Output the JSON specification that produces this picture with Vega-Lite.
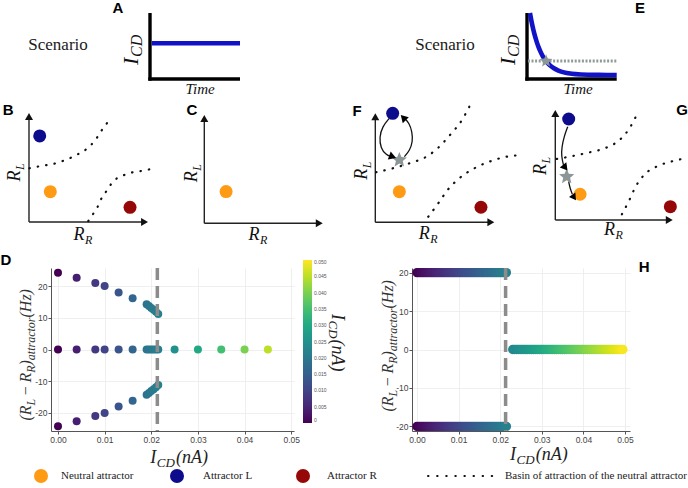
{
"$schema": "https://vega.github.io/schema/vega-lite/v6.json",
"padding": 0,
"background": "white",
"data": {"values": [{}]},
"datasets": {
"attr": [
{"panel":"B","kind":"N","x":0.179,"y":0.278},{"panel":"B","kind":"L","x":0.09,"y":0.79},{"panel":"B","kind":"R","x":0.849,"y":0.135},
{"panel":"C","kind":"N","x":0.184,"y":0.293},
{"panel":"F","kind":"N","x":0.202,"y":0.281},{"panel":"F","kind":"L","x":0.146,"y":1.0},{"panel":"F","kind":"R","x":0.888,"y":0.138},
{"panel":"G","kind":"N","x":0.211,"y":0.234},{"panel":"G","kind":"L","x":0.114,"y":0.918},{"panel":"G","kind":"R","x":0.98,"y":0.121}
],
"basin": [
{"panel":"B","curve":"1","x":0.003,"y":0.493},{"panel":"B","curve":"1","x":0.067,"y":0.507},{"panel":"B","curve":"1","x":0.137,"y":0.52},{"panel":"B","curve":"1","x":0.213,"y":0.535},{"panel":"B","curve":"1","x":0.283,"y":0.56},{"panel":"B","curve":"1","x":0.347,"y":0.587},{"panel":"B","curve":"1","x":0.409,"y":0.621},{"panel":"B","curve":"1","x":0.465,"y":0.654},{"panel":"B","curve":"1","x":0.521,"y":0.706},{"panel":"B","curve":"1","x":0.571,"y":0.773},{"panel":"B","curve":"1","x":0.613,"y":0.844},{"panel":"B","curve":"1","x":0.655,"y":0.906},
{"panel":"B","curve":"2","x":0.498,"y":0.009},{"panel":"B","curve":"2","x":0.538,"y":0.073},{"panel":"B","curve":"2","x":0.577,"y":0.14},{"panel":"B","curve":"2","x":0.605,"y":0.208},{"panel":"B","curve":"2","x":0.647,"y":0.278},{"panel":"B","curve":"2","x":0.689,"y":0.346},{"panel":"B","curve":"2","x":0.739,"y":0.401},{"panel":"B","curve":"2","x":0.801,"y":0.431},{"panel":"B","curve":"2","x":0.871,"y":0.456},{"panel":"B","curve":"2","x":0.941,"y":0.468},{"panel":"B","curve":"2","x":1.011,"y":0.483},
{"panel":"F","curve":"1","x":0.006,"y":0.459},{"panel":"F","curve":"1","x":0.146,"y":0.495},{"panel":"F","curve":"1","x":0.286,"y":0.541},{"panel":"F","curve":"1","x":0.425,"y":0.599},{"panel":"F","curve":"1","x":0.529,"y":0.684},{"panel":"F","curve":"1","x":0.627,"y":0.8},{"panel":"F","curve":"1","x":0.728,"y":0.938},{"panel":"F","curve":"1","x":0.79,"y":1.06},
{"panel":"F","curve":"2","x":0.445,"y":0.051},{"panel":"F","curve":"2","x":0.529,"y":0.174},{"panel":"F","curve":"2","x":0.608,"y":0.297},{"panel":"F","curve":"2","x":0.706,"y":0.404},{"panel":"F","curve":"2","x":0.832,"y":0.495},{"panel":"F","curve":"2","x":0.973,"y":0.562},{"panel":"F","curve":"2","x":1.135,"y":0.608},{"panel":"F","curve":"2","x":1.21,"y":0.615},
{"panel":"G","curve":"1","x":0.012,"y":0.555},{"panel":"G","curve":"1","x":0.149,"y":0.582},{"panel":"G","curve":"1","x":0.291,"y":0.615},{"panel":"G","curve":"1","x":0.433,"y":0.657},{"panel":"G","curve":"1","x":0.547,"y":0.727},{"panel":"G","curve":"1","x":0.632,"y":0.834},{"panel":"G","curve":"1","x":0.69,"y":0.948},
{"panel":"G","curve":"2","x":0.567,"y":0.052},{"panel":"G","curve":"2","x":0.627,"y":0.173},{"panel":"G","curve":"2","x":0.684,"y":0.303},{"panel":"G","curve":"2","x":0.761,"y":0.415},{"panel":"G","curve":"2","x":0.875,"y":0.491},{"panel":"G","curve":"2","x":1.003,"y":0.536},{"panel":"G","curve":"2","x":1.066,"y":0.552}
],
"arrows": [
{"panel":"F","path":"1","ord":1,"x":0.118,"y":0.954},{"panel":"F","path":"1","ord":2,"x":0.06,"y":0.88},{"panel":"F","path":"1","ord":3,"x":0.034,"y":0.78},{"panel":"F","path":"1","ord":4,"x":0.045,"y":0.68},{"panel":"F","path":"1","ord":5,"x":0.09,"y":0.62},{"panel":"F","path":"1","ord":6,"x":0.135,"y":0.601},
{"panel":"F","path":"2","ord":1,"x":0.244,"y":0.602},{"panel":"F","path":"2","ord":2,"x":0.29,"y":0.66},{"panel":"F","path":"2","ord":3,"x":0.314,"y":0.74},{"panel":"F","path":"2","ord":4,"x":0.31,"y":0.83},{"panel":"F","path":"2","ord":5,"x":0.285,"y":0.91},{"panel":"F","path":"2","ord":6,"x":0.245,"y":0.955},
{"panel":"G","path":"1","ord":1,"x":0.106,"y":0.848},{"panel":"G","path":"1","ord":2,"x":0.075,"y":0.76},{"panel":"G","path":"1","ord":3,"x":0.055,"y":0.66},{"panel":"G","path":"1","ord":4,"x":0.052,"y":0.58},{"panel":"G","path":"1","ord":5,"x":0.07,"y":0.5},
{"panel":"G","path":"2","ord":1,"x":0.114,"y":0.35},{"panel":"G","path":"2","ord":2,"x":0.125,"y":0.29},{"panel":"G","path":"2","ord":3,"x":0.145,"y":0.235}
],
"stars": [{"panel":"F","x":0.202,"y":0.572},{"panel":"G","x":0.097,"y":0.394}],
"decay": [
{"t":0.033,"I":1.0},{"t":0.05,"I":0.876},{"t":0.07,"I":0.751},{"t":0.09,"I":0.645},{"t":0.11,"I":0.555},{"t":0.13,"I":0.479},{"t":0.15,"I":0.415},{"t":0.175,"I":0.348},{"t":0.2,"I":0.294},{"t":0.225,"I":0.25},{"t":0.25,"I":0.214},{"t":0.3,"I":0.162},{"t":0.35,"I":0.127},{"t":0.4,"I":0.104},{"t":0.5,"I":0.079},{"t":0.6,"I":0.068},{"t":0.7,"I":0.064},{"t":0.8,"I":0.062},{"t":0.9,"I":0.061},{"t":1.0,"I":0.06}
],
"dpts": [
{"I":0,"v":24.2},{"I":0.004,"v":22.6},{"I":0.008,"v":21},{"I":0.01,"v":20},{"I":0.013,"v":18},{"I":0.016,"v":16.2},{"I":0.019,"v":14.3},{"I":0.0195,"v":13.7},{"I":0.02,"v":13.1},{"I":0.0205,"v":12.5},{"I":0.021,"v":11.9},{"I":0.0215,"v":11.2},
{"I":0,"v":0},{"I":0.004,"v":0},{"I":0.008,"v":0},{"I":0.01,"v":0},{"I":0.013,"v":0},{"I":0.016,"v":0},{"I":0.019,"v":0},{"I":0.0195,"v":0},{"I":0.02,"v":0},{"I":0.0205,"v":0},{"I":0.021,"v":0},{"I":0.0215,"v":0},{"I":0.025,"v":0},{"I":0.03,"v":0},{"I":0.035,"v":0},{"I":0.04,"v":0},{"I":0.045,"v":0},
{"I":0,"v":-24.2},{"I":0.004,"v":-22.6},{"I":0.008,"v":-21},{"I":0.01,"v":-20},{"I":0.013,"v":-18},{"I":0.016,"v":-16.2},{"I":0.019,"v":-14.3},{"I":0.0195,"v":-13.7},{"I":0.02,"v":-13.1},{"I":0.0205,"v":-12.5},{"I":0.021,"v":-11.9},{"I":0.0215,"v":-11.2}
],
"hpts": [
{"I":0,"v":20},{"I":0.0005,"v":20},{"I":0.001,"v":20},{"I":0.0015,"v":20},{"I":0.002,"v":20},{"I":0.0025,"v":20},{"I":0.003,"v":20},{"I":0.0035,"v":20},{"I":0.004,"v":20},{"I":0.0045,"v":20},{"I":0.005,"v":20},{"I":0.0055,"v":20},{"I":0.006,"v":20},{"I":0.0065,"v":20},{"I":0.007,"v":20},{"I":0.0075,"v":20},{"I":0.008,"v":20},{"I":0.0085,"v":20},{"I":0.009,"v":20},{"I":0.0095,"v":20},{"I":0.01,"v":20},{"I":0.0105,"v":20},{"I":0.011,"v":20},{"I":0.0115,"v":20},{"I":0.012,"v":20},{"I":0.0125,"v":20},{"I":0.013,"v":20},{"I":0.0135,"v":20},{"I":0.014,"v":20},{"I":0.0145,"v":20},{"I":0.015,"v":20},{"I":0.0155,"v":20},{"I":0.016,"v":20},{"I":0.0165,"v":20},{"I":0.017,"v":20},{"I":0.0175,"v":20},{"I":0.018,"v":20},{"I":0.0185,"v":20},{"I":0.019,"v":20},{"I":0.0195,"v":20},{"I":0.02,"v":20},{"I":0.0205,"v":20},{"I":0.021,"v":20},{"I":0.0215,"v":20},
{"I":0,"v":-20},{"I":0.0005,"v":-20},{"I":0.001,"v":-20},{"I":0.0015,"v":-20},{"I":0.002,"v":-20},{"I":0.0025,"v":-20},{"I":0.003,"v":-20},{"I":0.0035,"v":-20},{"I":0.004,"v":-20},{"I":0.0045,"v":-20},{"I":0.005,"v":-20},{"I":0.0055,"v":-20},{"I":0.006,"v":-20},{"I":0.0065,"v":-20},{"I":0.007,"v":-20},{"I":0.0075,"v":-20},{"I":0.008,"v":-20},{"I":0.0085,"v":-20},{"I":0.009,"v":-20},{"I":0.0095,"v":-20},{"I":0.01,"v":-20},{"I":0.0105,"v":-20},{"I":0.011,"v":-20},{"I":0.0115,"v":-20},{"I":0.012,"v":-20},{"I":0.0125,"v":-20},{"I":0.013,"v":-20},{"I":0.0135,"v":-20},{"I":0.014,"v":-20},{"I":0.0145,"v":-20},{"I":0.015,"v":-20},{"I":0.0155,"v":-20},{"I":0.016,"v":-20},{"I":0.0165,"v":-20},{"I":0.017,"v":-20},{"I":0.0175,"v":-20},{"I":0.018,"v":-20},{"I":0.0185,"v":-20},{"I":0.019,"v":-20},{"I":0.0195,"v":-20},{"I":0.02,"v":-20},{"I":0.0205,"v":-20},{"I":0.021,"v":-20},{"I":0.0215,"v":-20},
{"I":0.023,"v":0},{"I":0.0235,"v":0},{"I":0.024,"v":0},{"I":0.0245,"v":0},{"I":0.025,"v":0},{"I":0.0255,"v":0},{"I":0.026,"v":0},{"I":0.0265,"v":0},{"I":0.027,"v":0},{"I":0.0275,"v":0},{"I":0.028,"v":0},{"I":0.0285,"v":0},{"I":0.029,"v":0},{"I":0.0295,"v":0},{"I":0.03,"v":0},{"I":0.0305,"v":0},{"I":0.031,"v":0},{"I":0.0315,"v":0},{"I":0.032,"v":0},{"I":0.0325,"v":0},{"I":0.033,"v":0},{"I":0.0335,"v":0},{"I":0.034,"v":0},{"I":0.0345,"v":0},{"I":0.035,"v":0},{"I":0.0355,"v":0},{"I":0.036,"v":0},{"I":0.0365,"v":0},{"I":0.037,"v":0},{"I":0.0375,"v":0},{"I":0.038,"v":0},{"I":0.0385,"v":0},{"I":0.039,"v":0},{"I":0.0395,"v":0},{"I":0.04,"v":0},{"I":0.0405,"v":0},{"I":0.041,"v":0},{"I":0.0415,"v":0},{"I":0.042,"v":0},{"I":0.0425,"v":0},{"I":0.043,"v":0},{"I":0.0435,"v":0},{"I":0.044,"v":0},{"I":0.0445,"v":0},{"I":0.045,"v":0},{"I":0.0455,"v":0},{"I":0.046,"v":0},{"I":0.0465,"v":0},{"I":0.047,"v":0},{"I":0.0475,"v":0},{"I":0.048,"v":0},{"I":0.0485,"v":0},{"I":0.049,"v":0},{"I":0.0495,"v":0}
]
},
"columns": 5,
"spacing": 0,
"bounds": "flush",
"align": "each",
"resolve": {"scale": {"color": "independent"}, "legend": {"color": "independent"}},
"config": {"view": {"stroke": null}},
"concat": [
{"width": 50, "height": 95, "mark": {"type": "text", "text": ""}, "encoding": {}},
{"width": 243, "height": 95, "layer": [
 {"mark": {"type": "rule", "color": "#000", "strokeWidth": 3.4},
  "encoding": {"x": {"datum": 0, "type": "quantitative", "scale": {"domain": [-1.1, 1.6], "nice": false, "zero": false}, "axis": null},
               "y": {"datum": -0.025, "type": "quantitative", "scale": {"domain": [-0.2424, 1.197], "nice": false, "zero": false}, "axis": null}, "y2": {"datum": 1.0}}},
 {"mark": {"type": "rule", "color": "#000", "strokeWidth": 3.4},
  "encoding": {"x": {"datum": -0.019, "type": "quantitative", "axis": null}, "x2": {"datum": 1.0}, "y": {"datum": 0, "type": "quantitative", "axis": null}}},
 {"mark": {"type": "rule", "color": "#1212c8", "strokeWidth": 4.6},
  "encoding": {"x": {"datum": 0.02, "type": "quantitative", "axis": null}, "x2": {"datum": 1.0}, "y": {"datum": 0.541, "type": "quantitative", "axis": null}}},
 {"mark": {"type": "text", "text": "Scenario", "font": "Liberation Serif", "fontSize": 17, "color": "#1a1a1a", "align": "center", "baseline": "middle"},
  "encoding": {"x": {"datum": -1.022, "type": "quantitative", "axis": null}, "y": {"datum": 0.515, "type": "quantitative", "axis": null}}},
 {"mark": {"type": "text", "text": "I", "font": "Liberation Serif", "fontStyle": "italic", "fontSize": 22, "angle": 270, "align": "left", "baseline": "alphabetic", "dx": -19, "dy": -12, "color": "#111"},
  "encoding": {"x": {"datum": 0, "type": "quantitative", "axis": null}, "y": {"datum": 0.5, "type": "quantitative", "axis": null}}},
 {"mark": {"type": "text", "text": "CD", "font": "Liberation Serif", "fontStyle": "italic", "fontSize": 16, "angle": 270, "align": "left", "baseline": "alphabetic", "dx": -11, "dy": -8, "color": "#111"},
  "encoding": {"x": {"datum": 0, "type": "quantitative", "axis": null}, "y": {"datum": 0.5, "type": "quantitative", "axis": null}}},
 {"mark": {"type": "text", "text": "Time", "font": "Liberation Serif", "fontStyle": "italic", "fontSize": 15, "align": "center", "baseline": "middle", "color": "#111"},
  "encoding": {"x": {"datum": 0.556, "type": "quantitative", "axis": null}, "y": {"datum": -0.15, "type": "quantitative", "axis": null}}},
 {"mark": {"type": "text", "text": "A", "font": "Liberation Sans", "fontWeight": "bold", "fontSize": 15, "align": "center", "baseline": "middle", "color": "#000"},
  "encoding": {"x": {"datum": -0.356, "type": "quantitative", "axis": null}, "y": {"datum": 1.076, "type": "quantitative", "axis": null}}}
]},
{"width": 118, "height": 95, "mark": {"type": "text", "text": ""}, "encoding": {}},
{"width": 218, "height": 95, "layer": [
 {"mark": {"type": "rule", "color": "#000", "strokeWidth": 3.4},
  "encoding": {"x": {"datum": 0, "type": "quantitative", "scale": {"domain": [-1.282, 1.148], "nice": false, "zero": false}, "axis": null},
               "y": {"datum": -0.025, "type": "quantitative", "scale": {"domain": [-0.2424, 1.197], "nice": false, "zero": false}, "axis": null}, "y2": {"datum": 1.0}}},
 {"mark": {"type": "rule", "color": "#000", "strokeWidth": 3.4},
  "encoding": {"x": {"datum": -0.019, "type": "quantitative", "axis": null}, "x2": {"datum": 1.0}, "y": {"datum": 0, "type": "quantitative", "axis": null}}},
 {"mark": {"type": "rule", "color": "#8d9c98", "strokeWidth": 3, "strokeDash": [2, 1.6]},
  "encoding": {"x": {"datum": 0.01, "type": "quantitative", "axis": null}, "x2": {"datum": 1.0}, "y": {"datum": 0.273, "type": "quantitative", "axis": null}}},
 {"data": {"name": "decay"}, "mark": {"type": "line", "color": "#1212c8", "strokeWidth": 4.6, "interpolate": "monotone"},
  "encoding": {"x": {"field": "t", "type": "quantitative", "axis": null}, "y": {"field": "I", "type": "quantitative", "axis": null}}},
 {"mark": {"type": "point", "shape": "M0,-1L0.265,-0.364L0.951,-0.309L0.428,0.139L0.588,0.809L0,0.45L-0.588,0.809L-0.428,0.139L-0.951,-0.309L-0.265,-0.364Z", "filled": true, "color": "#8c9696", "size": 180, "opacity": 1},
  "encoding": {"x": {"datum": 0.212, "type": "quantitative", "axis": null}, "y": {"datum": 0.273, "type": "quantitative", "axis": null}}},
 {"mark": {"type": "text", "text": "Scenario", "font": "Liberation Serif", "fontSize": 17, "color": "#1a1a1a", "align": "center", "baseline": "middle"},
  "encoding": {"x": {"datum": -0.914, "type": "quantitative", "axis": null}, "y": {"datum": 0.515, "type": "quantitative", "axis": null}}},
 {"mark": {"type": "text", "text": "I", "font": "Liberation Serif", "fontStyle": "italic", "fontSize": 22, "angle": 270, "align": "left", "baseline": "alphabetic", "dx": -19, "dy": -12, "color": "#111"},
  "encoding": {"x": {"datum": 0, "type": "quantitative", "axis": null}, "y": {"datum": 0.5, "type": "quantitative", "axis": null}}},
 {"mark": {"type": "text", "text": "CD", "font": "Liberation Serif", "fontStyle": "italic", "fontSize": 16, "angle": 270, "align": "left", "baseline": "alphabetic", "dx": -11, "dy": -8, "color": "#111"},
  "encoding": {"x": {"datum": 0, "type": "quantitative", "axis": null}, "y": {"datum": 0.5, "type": "quantitative", "axis": null}}},
 {"mark": {"type": "text", "text": "Time", "font": "Liberation Serif", "fontStyle": "italic", "fontSize": 15, "align": "center", "baseline": "middle", "color": "#111"},
  "encoding": {"x": {"datum": 0.569, "type": "quantitative", "axis": null}, "y": {"datum": -0.15, "type": "quantitative", "axis": null}}},
 {"mark": {"type": "text", "text": "E", "font": "Liberation Sans", "fontWeight": "bold", "fontSize": 15, "align": "center", "baseline": "middle", "color": "#000"},
  "encoding": {"x": {"datum": 1.26, "type": "quantitative", "axis": null}, "y": {"datum": 1.076, "type": "quantitative", "axis": null}}}
]},
{"width": 59, "height": 95, "mark": {"type": "text", "text": ""}, "encoding": {}},
{"width": 50, "height": 173, "layer": [
 {"mark": {"type": "rule", "color": "#222", "strokeWidth": 1.4},
  "encoding": {"x": {"datum": 0, "type": "quantitative", "scale": {"domain": [-0.2353, 0.1849], "nice": false, "zero": false}, "axis": null},
               "y": {"datum": 0, "type": "quantitative", "scale": {"domain": [-0.422, 1.1651], "nice": false, "zero": false}, "axis": null}, "y2": {"datum": 0.96}}},
 {"mark": {"type": "rule", "color": "#222", "strokeWidth": 1.4},
  "encoding": {"x": {"datum": 0, "type": "quantitative", "axis": null}, "x2": {"datum": 0.96}, "y": {"datum": 0, "type": "quantitative", "axis": null}}},
 {"mark": {"type": "point", "shape": "triangle-up", "filled": true, "color": "#111", "size": 64, "opacity": 1},
  "encoding": {"x": {"datum": 0, "type": "quantitative", "axis": null}, "y": {"datum": 0.968, "type": "quantitative", "axis": null}}},
 {"mark": {"type": "point", "shape": "triangle-right", "filled": true, "color": "#111", "size": 64, "opacity": 1},
  "encoding": {"x": {"datum": 0.971, "type": "quantitative", "axis": null}, "y": {"datum": 0, "type": "quantitative", "axis": null}}},
 {"data": {"name": "basin"}, "transform": [{"filter": "datum.panel === 'B'"}],
  "mark": {"type": "line", "interpolate": "monotone", "color": "#111", "strokeWidth": 2.2, "strokeCap": "round", "strokeDash": [0.5, 8]},
  "encoding": {"x": {"field": "x", "type": "quantitative", "axis": null}, "y": {"field": "y", "type": "quantitative", "axis": null}, "detail": {"field": "curve"}}},
 {"data": {"name": "attr"}, "transform": [{"filter": "datum.panel === 'B'"}],
  "mark": {"type": "point", "filled": true, "size": 169, "opacity": 1},
  "encoding": {"x": {"field": "x", "type": "quantitative", "axis": null}, "y": {"field": "y", "type": "quantitative", "axis": null},
               "color": {"field": "kind", "type": "nominal", "scale": {"domain": ["N", "L", "R"], "range": ["#ff9a14", "#0c0c8c", "#960808"]}, "legend": null}}},
 {"mark": {"type": "text", "text": "B", "font": "Liberation Sans", "fontWeight": "bold", "fontSize": 15, "align": "center", "baseline": "middle", "color": "#000"},
  "encoding": {"x": {"datum": -0.176, "type": "quantitative", "axis": null}, "y": {"datum": 1.028, "type": "quantitative", "axis": null}}},
 {"mark": {"type": "text", "text": "R", "font": "Liberation Serif", "fontStyle": "italic", "fontSize": 18, "angle": 270, "align": "left", "baseline": "alphabetic", "dx": -14, "dy": -9, "color": "#111"},
  "encoding": {"x": {"datum": 0, "type": "quantitative", "axis": null}, "y": {"datum": 0.5, "type": "quantitative", "axis": null}}},
 {"mark": {"type": "text", "text": "L", "font": "Liberation Serif", "fontStyle": "italic", "fontSize": 12, "angle": 270, "align": "left", "baseline": "alphabetic", "dx": -2.5, "dy": -5, "color": "#111"},
  "encoding": {"x": {"datum": 0, "type": "quantitative", "axis": null}, "y": {"datum": 0.5, "type": "quantitative", "axis": null}}},
 {"mark": {"type": "text", "text": "R", "font": "Liberation Serif", "fontStyle": "italic", "fontSize": 18, "align": "left", "baseline": "alphabetic", "dx": -15, "dy": 18, "color": "#111"},
  "encoding": {"x": {"datum": 0.5, "type": "quantitative", "axis": null}, "y": {"datum": 0, "type": "quantitative", "axis": null}}},
 {"mark": {"type": "text", "text": "R", "font": "Liberation Serif", "fontStyle": "italic", "fontSize": 12, "align": "left", "baseline": "alphabetic", "dx": -3.5, "dy": 22, "color": "#111"},
  "encoding": {"x": {"datum": 0.5, "type": "quantitative", "axis": null}, "y": {"datum": 0, "type": "quantitative", "axis": null}}}
]},
{"width": 243, "height": 173, "layer": [
 {"mark": {"type": "rule", "color": "#222", "strokeWidth": 1.4},
  "encoding": {"x": {"datum": 0, "type": "quantitative", "scale": {"domain": [-1.2948, 0.7576], "nice": false, "zero": false}, "axis": null},
               "y": {"datum": 0, "type": "quantitative", "scale": {"domain": [-0.4127, 1.1847], "nice": false, "zero": false}, "axis": null}, "y2": {"datum": 0.96}}},
 {"mark": {"type": "rule", "color": "#222", "strokeWidth": 1.4},
  "encoding": {"x": {"datum": 0, "type": "quantitative", "axis": null}, "x2": {"datum": 0.96}, "y": {"datum": 0, "type": "quantitative", "axis": null}}},
 {"mark": {"type": "point", "shape": "triangle-up", "filled": true, "color": "#111", "size": 64, "opacity": 1},
  "encoding": {"x": {"datum": 0, "type": "quantitative", "axis": null}, "y": {"datum": 0.968, "type": "quantitative", "axis": null}}},
 {"mark": {"type": "point", "shape": "triangle-right", "filled": true, "color": "#111", "size": 64, "opacity": 1},
  "encoding": {"x": {"datum": 0.971, "type": "quantitative", "axis": null}, "y": {"datum": 0, "type": "quantitative", "axis": null}}},
 {"data": {"name": "attr"}, "transform": [{"filter": "datum.panel === 'C'"}],
  "mark": {"type": "point", "filled": true, "size": 169, "opacity": 1},
  "encoding": {"x": {"field": "x", "type": "quantitative", "axis": null}, "y": {"field": "y", "type": "quantitative", "axis": null},
               "color": {"field": "kind", "type": "nominal", "scale": {"domain": ["N", "L", "R"], "range": ["#ff9a14", "#0c0c8c", "#960808"]}, "legend": null}}},
 {"mark": {"type": "text", "text": "C", "font": "Liberation Sans", "fontWeight": "bold", "fontSize": 15, "align": "center", "baseline": "middle", "color": "#000"},
  "encoding": {"x": {"datum": -0.104, "type": "quantitative", "axis": null}, "y": {"datum": 1.046, "type": "quantitative", "axis": null}}},
 {"mark": {"type": "text", "text": "R", "font": "Liberation Serif", "fontStyle": "italic", "fontSize": 18, "angle": 270, "align": "left", "baseline": "alphabetic", "dx": -13, "dy": -7, "color": "#111"},
  "encoding": {"x": {"datum": 0, "type": "quantitative", "axis": null}, "y": {"datum": 0.5, "type": "quantitative", "axis": null}}},
 {"mark": {"type": "text", "text": "L", "font": "Liberation Serif", "fontStyle": "italic", "fontSize": 12, "angle": 270, "align": "left", "baseline": "alphabetic", "dx": -1.5, "dy": -3, "color": "#111"},
  "encoding": {"x": {"datum": 0, "type": "quantitative", "axis": null}, "y": {"datum": 0.5, "type": "quantitative", "axis": null}}},
 {"mark": {"type": "text", "text": "R", "font": "Liberation Serif", "fontStyle": "italic", "fontSize": 18, "align": "left", "baseline": "alphabetic", "dx": -15, "dy": 17, "color": "#111"},
  "encoding": {"x": {"datum": 0.5, "type": "quantitative", "axis": null}, "y": {"datum": 0, "type": "quantitative", "axis": null}}},
 {"mark": {"type": "text", "text": "R", "font": "Liberation Serif", "fontStyle": "italic", "fontSize": 12, "align": "left", "baseline": "alphabetic", "dx": -3.5, "dy": 21, "color": "#111"},
  "encoding": {"x": {"datum": 0.5, "type": "quantitative", "axis": null}, "y": {"datum": 0, "type": "quantitative", "axis": null}}}
]},
{"width": 118, "height": 173, "layer": [
 {"mark": {"type": "rule", "color": "#222", "strokeWidth": 1.4},
  "encoding": {"x": {"datum": 0, "type": "quantitative", "scale": {"domain": [-0.6832, 0.3084], "nice": false, "zero": false}, "axis": null},
               "y": {"datum": 0, "type": "quantitative", "scale": {"domain": [-0.4193, 1.1679], "nice": false, "zero": false}, "axis": null}, "y2": {"datum": 0.96}}},
 {"mark": {"type": "rule", "color": "#222", "strokeWidth": 1.4},
  "encoding": {"x": {"datum": 0, "type": "quantitative", "axis": null}, "x2": {"datum": 0.96}, "y": {"datum": 0, "type": "quantitative", "axis": null}}},
 {"mark": {"type": "point", "shape": "triangle-up", "filled": true, "color": "#111", "size": 64, "opacity": 1},
  "encoding": {"x": {"datum": 0, "type": "quantitative", "axis": null}, "y": {"datum": 0.968, "type": "quantitative", "axis": null}}},
 {"mark": {"type": "point", "shape": "triangle-right", "filled": true, "color": "#111", "size": 64, "opacity": 1},
  "encoding": {"x": {"datum": 0.971, "type": "quantitative", "axis": null}, "y": {"datum": 0, "type": "quantitative", "axis": null}}},
 {"data": {"name": "basin"}, "transform": [{"filter": "datum.panel === 'F'"}],
  "mark": {"type": "line", "interpolate": "monotone", "color": "#111", "strokeWidth": 2.2, "strokeCap": "round", "strokeDash": [0.5, 8]},
  "encoding": {"x": {"field": "x", "type": "quantitative", "axis": null}, "y": {"field": "y", "type": "quantitative", "axis": null}, "detail": {"field": "curve"}}},
 {"data": {"name": "arrows"}, "transform": [{"filter": "datum.panel === 'F'"}],
  "mark": {"type": "line", "interpolate": "basis", "color": "#111", "strokeWidth": 1.3},
  "encoding": {"x": {"field": "x", "type": "quantitative", "axis": null}, "y": {"field": "y", "type": "quantitative", "axis": null}, "detail": {"field": "path"}, "order": {"field": "ord"}}},
 {"data": {"name": "attr"}, "transform": [{"filter": "datum.panel === 'F'"}],
  "mark": {"type": "point", "filled": true, "size": 169, "opacity": 1},
  "encoding": {"x": {"field": "x", "type": "quantitative", "axis": null}, "y": {"field": "y", "type": "quantitative", "axis": null},
               "color": {"field": "kind", "type": "nominal", "scale": {"domain": ["N", "L", "R"], "range": ["#ff9a14", "#0c0c8c", "#960808"]}, "legend": null}}},
 {"data": {"name": "stars"}, "transform": [{"filter": "datum.panel === 'F'"}],
  "mark": {"type": "point", "shape": "M0,-1L0.265,-0.364L0.951,-0.309L0.428,0.139L0.588,0.809L0,0.45L-0.588,0.809L-0.428,0.139L-0.951,-0.309L-0.265,-0.364Z", "filled": true, "color": "#8c9696", "size": 256, "opacity": 1},
  "encoding": {"x": {"field": "x", "type": "quantitative", "axis": null}, "y": {"field": "y", "type": "quantitative", "axis": null}}},
 {"mark": {"type": "point", "shape": "triangle-right", "filled": true, "color": "#000", "size": 70, "opacity": 1, "angle": 20},
  "encoding": {"x": {"datum": 0.146, "type": "quantitative", "axis": null}, "y": {"datum": 0.601, "type": "quantitative", "axis": null}}},
 {"mark": {"type": "point", "shape": "triangle-right", "filled": true, "color": "#000", "size": 70, "opacity": 1, "angle": 226},
  "encoding": {"x": {"datum": 0.235, "type": "quantitative", "axis": null}, "y": {"datum": 0.96, "type": "quantitative", "axis": null}}},
 {"mark": {"type": "text", "text": "F", "font": "Liberation Sans", "fontWeight": "bold", "fontSize": 15, "align": "center", "baseline": "middle", "color": "#000"},
  "encoding": {"x": {"datum": -0.154, "type": "quantitative", "axis": null}, "y": {"datum": 1.021, "type": "quantitative", "axis": null}}},
 {"mark": {"type": "text", "text": "R", "font": "Liberation Serif", "fontStyle": "italic", "fontSize": 18, "angle": 270, "align": "left", "baseline": "alphabetic", "dx": -12, "dy": -8, "color": "#111"},
  "encoding": {"x": {"datum": 0, "type": "quantitative", "axis": null}, "y": {"datum": 0.5, "type": "quantitative", "axis": null}}},
 {"mark": {"type": "text", "text": "L", "font": "Liberation Serif", "fontStyle": "italic", "fontSize": 12, "angle": 270, "align": "left", "baseline": "alphabetic", "dx": -0.5, "dy": -4, "color": "#111"},
  "encoding": {"x": {"datum": 0, "type": "quantitative", "axis": null}, "y": {"datum": 0.5, "type": "quantitative", "axis": null}}},
 {"mark": {"type": "text", "text": "R", "font": "Liberation Serif", "fontStyle": "italic", "fontSize": 18, "align": "left", "baseline": "alphabetic", "dx": -16, "dy": 17, "color": "#111"},
  "encoding": {"x": {"datum": 0.5, "type": "quantitative", "axis": null}, "y": {"datum": 0, "type": "quantitative", "axis": null}}},
 {"mark": {"type": "text", "text": "R", "font": "Liberation Serif", "fontStyle": "italic", "fontSize": 12, "align": "left", "baseline": "alphabetic", "dx": -4.5, "dy": 21, "color": "#111"},
  "encoding": {"x": {"datum": 0.5, "type": "quantitative", "axis": null}, "y": {"datum": 0, "type": "quantitative", "axis": null}}}
]},
{"width": 218, "height": 173, "layer": [
 {"mark": {"type": "rule", "color": "#222", "strokeWidth": 1.4},
  "encoding": {"x": {"datum": 0, "type": "quantitative", "scale": {"domain": [-1.2206, 0.6363], "nice": false, "zero": false}, "axis": null},
               "y": {"datum": 0, "type": "quantitative", "scale": {"domain": [-0.4364, 1.1364], "nice": false, "zero": false}, "axis": null}, "y2": {"datum": 0.96}}},
 {"mark": {"type": "rule", "color": "#222", "strokeWidth": 1.4},
  "encoding": {"x": {"datum": 0, "type": "quantitative", "axis": null}, "x2": {"datum": 0.96}, "y": {"datum": 0, "type": "quantitative", "axis": null}}},
 {"mark": {"type": "point", "shape": "triangle-up", "filled": true, "color": "#111", "size": 64, "opacity": 1},
  "encoding": {"x": {"datum": 0, "type": "quantitative", "axis": null}, "y": {"datum": 0.968, "type": "quantitative", "axis": null}}},
 {"mark": {"type": "point", "shape": "triangle-right", "filled": true, "color": "#111", "size": 64, "opacity": 1},
  "encoding": {"x": {"datum": 0.971, "type": "quantitative", "axis": null}, "y": {"datum": 0, "type": "quantitative", "axis": null}}},
 {"data": {"name": "basin"}, "transform": [{"filter": "datum.panel === 'G'"}],
  "mark": {"type": "line", "interpolate": "monotone", "color": "#111", "strokeWidth": 2.2, "strokeCap": "round", "strokeDash": [0.5, 8]},
  "encoding": {"x": {"field": "x", "type": "quantitative", "axis": null}, "y": {"field": "y", "type": "quantitative", "axis": null}, "detail": {"field": "curve"}}},
 {"data": {"name": "arrows"}, "transform": [{"filter": "datum.panel === 'G'"}],
  "mark": {"type": "line", "interpolate": "basis", "color": "#111", "strokeWidth": 1.3},
  "encoding": {"x": {"field": "x", "type": "quantitative", "axis": null}, "y": {"field": "y", "type": "quantitative", "axis": null}, "detail": {"field": "path"}, "order": {"field": "ord"}}},
 {"data": {"name": "attr"}, "transform": [{"filter": "datum.panel === 'G'"}],
  "mark": {"type": "point", "filled": true, "size": 169, "opacity": 1},
  "encoding": {"x": {"field": "x", "type": "quantitative", "axis": null}, "y": {"field": "y", "type": "quantitative", "axis": null},
               "color": {"field": "kind", "type": "nominal", "scale": {"domain": ["N", "L", "R"], "range": ["#ff9a14", "#0c0c8c", "#960808"]}, "legend": null}}},
 {"data": {"name": "stars"}, "transform": [{"filter": "datum.panel === 'G'"}],
  "mark": {"type": "point", "shape": "M0,-1L0.265,-0.364L0.951,-0.309L0.428,0.139L0.588,0.809L0,0.45L-0.588,0.809L-0.428,0.139L-0.951,-0.309L-0.265,-0.364Z", "filled": true, "color": "#8c9696", "size": 256, "opacity": 1},
  "encoding": {"x": {"field": "x", "type": "quantitative", "axis": null}, "y": {"field": "y", "type": "quantitative", "axis": null}}},
 {"mark": {"type": "point", "shape": "triangle-right", "filled": true, "color": "#000", "size": 70, "opacity": 1, "angle": 52},
  "encoding": {"x": {"datum": 0.085, "type": "quantitative", "axis": null}, "y": {"datum": 0.475, "type": "quantitative", "axis": null}}},
 {"mark": {"type": "point", "shape": "triangle-right", "filled": true, "color": "#000", "size": 60, "opacity": 1, "angle": 55},
  "encoding": {"x": {"datum": 0.16, "type": "quantitative", "axis": null}, "y": {"datum": 0.205, "type": "quantitative", "axis": null}}},
 {"mark": {"type": "text", "text": "G", "font": "Liberation Sans", "fontWeight": "bold", "fontSize": 15, "align": "center", "baseline": "middle", "color": "#000"},
  "encoding": {"x": {"datum": 1.079, "type": "quantitative", "axis": null}, "y": {"datum": 1.0, "type": "quantitative", "axis": null}}},
 {"mark": {"type": "text", "text": "R", "font": "Liberation Serif", "fontStyle": "italic", "fontSize": 18, "angle": 270, "align": "left", "baseline": "alphabetic", "dx": -10, "dy": -9, "color": "#111"},
  "encoding": {"x": {"datum": 0, "type": "quantitative", "axis": null}, "y": {"datum": 0.5, "type": "quantitative", "axis": null}}},
 {"mark": {"type": "text", "text": "L", "font": "Liberation Serif", "fontStyle": "italic", "fontSize": 12, "angle": 270, "align": "left", "baseline": "alphabetic", "dx": 1.5, "dy": -5, "color": "#111"},
  "encoding": {"x": {"datum": 0, "type": "quantitative", "axis": null}, "y": {"datum": 0.5, "type": "quantitative", "axis": null}}},
 {"mark": {"type": "text", "text": "R", "font": "Liberation Serif", "fontStyle": "italic", "fontSize": 18, "align": "left", "baseline": "alphabetic", "dx": -10, "dy": 15, "color": "#111"},
  "encoding": {"x": {"datum": 0.5, "type": "quantitative", "axis": null}, "y": {"datum": 0, "type": "quantitative", "axis": null}}},
 {"mark": {"type": "text", "text": "R", "font": "Liberation Serif", "fontStyle": "italic", "fontSize": 12, "align": "left", "baseline": "alphabetic", "dx": 1.5, "dy": 19, "color": "#111"},
  "encoding": {"x": {"datum": 0.5, "type": "quantitative", "axis": null}, "y": {"datum": 0, "type": "quantitative", "axis": null}}}
]},
{"width": 59, "height": 173, "mark": {"type": "text", "text": ""}, "encoding": {}},
{"width": 50, "height": 163,
 "mark": {"type": "text", "text": "D", "font": "Liberation Sans", "fontWeight": "bold", "fontSize": 15, "align": "center", "baseline": "middle", "color": "#000"},
 "encoding": {"x": {"datum": 0.1, "type": "quantitative", "scale": {"domain": [0, 1], "nice": false, "zero": false}, "axis": null},
              "y": {"datum": 1.049, "type": "quantitative", "scale": {"domain": [0, 1], "nice": false, "zero": false}, "axis": null}}},
{"width": 243, "height": 163, "layer": [
 {"data": {"name": "dpts"}, "mark": {"type": "point", "filled": true, "size": 64, "opacity": 1},
  "encoding": {
   "x": {"field": "I", "type": "quantitative", "scale": {"domain": [-0.0015, 0.0506], "nice": false, "zero": false},
         "axis": {"values": [0, 0.01, 0.02, 0.03, 0.04, 0.05], "format": ".2f", "title": null, "grid": true, "gridColor": "#ebebeb", "gridWidth": 0.8, "domainColor": "#555", "tickColor": "#555", "tickSize": 3, "labelFont": "Liberation Sans", "labelFontSize": 8.5, "labelColor": "#444", "labelPadding": 1, "labelFlush": false}},
   "y": {"field": "v", "type": "quantitative", "scale": {"domain": [-25.7, 25.7], "nice": false, "zero": false},
         "axis": {"values": [-20, -10, 0, 10, 20], "labelExpr": "'' + datum.value", "title": null, "grid": true, "gridColor": "#ebebeb", "gridWidth": 0.8, "domainColor": "#555", "tickColor": "#555", "tickSize": 3, "labelFont": "Liberation Sans", "labelFontSize": 8.5, "labelColor": "#444", "labelPadding": 1}},
   "color": {"field": "I", "type": "quantitative", "scale": {"scheme": "viridis", "domain": [0, 0.05]},
             "legend": {"orient": "none", "legendX": 252, "legendY": -8, "direction": "vertical", "gradientLength": 163, "gradientThickness": 9, "title": null,
                        "values": [0, 0.005, 0.01, 0.015, 0.02, 0.025, 0.03, 0.035, 0.04, 0.045, 0.05],
                        "labelExpr": "datum.value === 0 ? '0' : format(datum.value, '.3f')", "labelFontSize": 5, "labelFont": "Liberation Sans", "labelColor": "#555", "labelOffset": 2, "labelOverlap": false, "gradientStrokeWidth": 0}}}},
 {"mark": {"type": "rule", "color": "#8c8c8c", "strokeWidth": 3.5, "strokeDash": [12, 6]},
  "encoding": {"x": {"datum": 0.0213, "type": "quantitative"}}},
 {"mark": {"type": "text", "text": "(R", "font": "Liberation Serif", "fontStyle": "italic", "fontSize": 16, "angle": 270, "align": "left", "baseline": "alphabetic", "dx": -71, "dy": -20, "color": "#333"},
  "encoding": {"x": {"datum": -0.0015, "type": "quantitative"}, "y": {"datum": 0, "type": "quantitative"}}},
 {"mark": {"type": "text", "text": "L", "font": "Liberation Serif", "fontStyle": "italic", "fontSize": 12, "angle": 270, "align": "left", "baseline": "alphabetic", "dx": -55.9, "dy": -16, "color": "#333"},
  "encoding": {"x": {"datum": -0.0015, "type": "quantitative"}, "y": {"datum": 0, "type": "quantitative"}}},
 {"mark": {"type": "text", "text": "−", "font": "Liberation Serif", "fontSize": 16, "angle": 270, "align": "left", "baseline": "alphabetic", "dx": -45.7, "dy": -20, "color": "#333"},
  "encoding": {"x": {"datum": -0.0015, "type": "quantitative"}, "y": {"datum": 0, "type": "quantitative"}}},
 {"mark": {"type": "text", "text": "R", "font": "Liberation Serif", "fontStyle": "italic", "fontSize": 16, "angle": 270, "align": "left", "baseline": "alphabetic", "dx": -33.1, "dy": -20, "color": "#333"},
  "encoding": {"x": {"datum": -0.0015, "type": "quantitative"}, "y": {"datum": 0, "type": "quantitative"}}},
 {"mark": {"type": "text", "text": "R", "font": "Liberation Serif", "fontStyle": "italic", "fontSize": 12, "angle": 270, "align": "left", "baseline": "alphabetic", "dx": -23.3, "dy": -16, "color": "#333"},
  "encoding": {"x": {"datum": -0.0015, "type": "quantitative"}, "y": {"datum": 0, "type": "quantitative"}}},
 {"mark": {"type": "text", "text": ")", "font": "Liberation Serif", "fontStyle": "italic", "fontSize": 16, "angle": 270, "align": "left", "baseline": "alphabetic", "dx": -16, "dy": -20, "color": "#333"},
  "encoding": {"x": {"datum": -0.0015, "type": "quantitative"}, "y": {"datum": 0, "type": "quantitative"}}},
 {"mark": {"type": "text", "text": "attractor", "font": "Liberation Serif", "fontStyle": "italic", "fontSize": 12, "angle": 270, "align": "left", "baseline": "alphabetic", "dx": -10.7, "dy": -16, "color": "#333"},
  "encoding": {"x": {"datum": -0.0015, "type": "quantitative"}, "y": {"datum": 0, "type": "quantitative"}}},
 {"mark": {"type": "text", "text": "(Hz)", "font": "Liberation Serif", "fontStyle": "italic", "fontSize": 16, "angle": 270, "align": "left", "baseline": "alphabetic", "dx": 32, "dy": -20, "color": "#333"},
  "encoding": {"x": {"datum": -0.0015, "type": "quantitative"}, "y": {"datum": 0, "type": "quantitative"}}},
 {"mark": {"type": "text", "text": "I", "font": "Liberation Serif", "fontStyle": "italic", "fontSize": 18, "align": "left", "baseline": "alphabetic", "dx": -28, "dy": 32, "color": "#222"},
  "encoding": {"x": {"datum": 0.0258, "type": "quantitative"}, "y": {"datum": -25.7, "type": "quantitative"}}},
 {"mark": {"type": "text", "text": "CD", "font": "Liberation Serif", "fontStyle": "italic", "fontSize": 13, "align": "left", "baseline": "alphabetic", "dx": -21.5, "dy": 36, "color": "#222"},
  "encoding": {"x": {"datum": 0.0258, "type": "quantitative"}, "y": {"datum": -25.7, "type": "quantitative"}}},
 {"mark": {"type": "text", "text": "(nA)", "font": "Liberation Serif", "fontStyle": "italic", "fontSize": 18, "align": "left", "baseline": "alphabetic", "dx": -2.4, "dy": 32, "color": "#222"},
  "encoding": {"x": {"datum": 0.0258, "type": "quantitative"}, "y": {"datum": -25.7, "type": "quantitative"}}}
]},
{"width": 118, "height": 163, "layer": [
 {"mark": {"type": "text", "text": "I", "font": "Liberation Serif", "fontStyle": "italic", "fontSize": 18, "angle": 90, "align": "left", "baseline": "alphabetic", "dx": -28, "dy": 0, "color": "#222"},
  "encoding": {"x": {"datum": 0.325, "type": "quantitative", "scale": {"domain": [0, 1], "nice": false, "zero": false}, "axis": null},
               "y": {"datum": 0.546, "type": "quantitative", "scale": {"domain": [0, 1], "nice": false, "zero": false}, "axis": null}}},
 {"mark": {"type": "text", "text": "CD", "font": "Liberation Serif", "fontStyle": "italic", "fontSize": 13, "angle": 90, "align": "left", "baseline": "alphabetic", "dx": -21.5, "dy": 3, "color": "#222"},
  "encoding": {"x": {"datum": 0.325, "type": "quantitative", "axis": null}, "y": {"datum": 0.546, "type": "quantitative", "axis": null}}},
 {"mark": {"type": "text", "text": "(nA)", "font": "Liberation Serif", "fontStyle": "italic", "fontSize": 18, "angle": 90, "align": "left", "baseline": "alphabetic", "dx": -2.4, "dy": 0, "color": "#222"},
  "encoding": {"x": {"datum": 0.325, "type": "quantitative", "axis": null}, "y": {"datum": 0.546, "type": "quantitative", "axis": null}}}
]},
{"width": 218, "height": 163, "layer": [
 {"data": {"name": "hpts"}, "mark": {"type": "point", "filled": true, "size": 86, "opacity": 1},
  "encoding": {
   "x": {"field": "I", "type": "quantitative", "scale": {"domain": [-0.0012, 0.0512], "nice": false, "zero": false},
         "axis": {"values": [0, 0.01, 0.02, 0.03, 0.04, 0.05], "format": ".2f", "title": null, "grid": true, "gridColor": "#ebebeb", "gridWidth": 0.8, "domainColor": "#555", "tickColor": "#555", "tickSize": 3, "labelFont": "Liberation Sans", "labelFontSize": 8.5, "labelColor": "#444", "labelPadding": 1, "labelFlush": false}},
   "y": {"field": "v", "type": "quantitative", "scale": {"domain": [-21.2, 21.2], "nice": false, "zero": false},
         "axis": {"values": [-20, -10, 0, 10, 20], "labelExpr": "'' + datum.value", "title": null, "grid": true, "gridColor": "#ebebeb", "gridWidth": 0.8, "domainColor": "#555", "tickColor": "#555", "tickSize": 3, "labelFont": "Liberation Sans", "labelFontSize": 8.5, "labelColor": "#444", "labelPadding": 1}},
   "color": {"field": "I", "type": "quantitative", "scale": {"scheme": "viridis", "domain": [0, 0.05]}, "legend": null}}},
 {"mark": {"type": "rule", "color": "#8c8c8c", "strokeWidth": 3.5, "strokeDash": [12, 6]},
  "encoding": {"x": {"datum": 0.0213, "type": "quantitative"}}},
 {"mark": {"type": "text", "text": "(R", "font": "Liberation Serif", "fontStyle": "italic", "fontSize": 16, "angle": 270, "align": "left", "baseline": "alphabetic", "dx": -62, "dy": -19, "color": "#333"},
  "encoding": {"x": {"datum": -0.0012, "type": "quantitative"}, "y": {"datum": 0, "type": "quantitative"}}},
 {"mark": {"type": "text", "text": "L", "font": "Liberation Serif", "fontStyle": "italic", "fontSize": 12, "angle": 270, "align": "left", "baseline": "alphabetic", "dx": -46.9, "dy": -15, "color": "#333"},
  "encoding": {"x": {"datum": -0.0012, "type": "quantitative"}, "y": {"datum": 0, "type": "quantitative"}}},
 {"mark": {"type": "text", "text": "−", "font": "Liberation Serif", "fontSize": 16, "angle": 270, "align": "left", "baseline": "alphabetic", "dx": -36.7, "dy": -19, "color": "#333"},
  "encoding": {"x": {"datum": -0.0012, "type": "quantitative"}, "y": {"datum": 0, "type": "quantitative"}}},
 {"mark": {"type": "text", "text": "R", "font": "Liberation Serif", "fontStyle": "italic", "fontSize": 16, "angle": 270, "align": "left", "baseline": "alphabetic", "dx": -24.1, "dy": -19, "color": "#333"},
  "encoding": {"x": {"datum": -0.0012, "type": "quantitative"}, "y": {"datum": 0, "type": "quantitative"}}},
 {"mark": {"type": "text", "text": "R", "font": "Liberation Serif", "fontStyle": "italic", "fontSize": 12, "angle": 270, "align": "left", "baseline": "alphabetic", "dx": -14.3, "dy": -15, "color": "#333"},
  "encoding": {"x": {"datum": -0.0012, "type": "quantitative"}, "y": {"datum": 0, "type": "quantitative"}}},
 {"mark": {"type": "text", "text": ")", "font": "Liberation Serif", "fontStyle": "italic", "fontSize": 16, "angle": 270, "align": "left", "baseline": "alphabetic", "dx": -7, "dy": -19, "color": "#333"},
  "encoding": {"x": {"datum": -0.0012, "type": "quantitative"}, "y": {"datum": 0, "type": "quantitative"}}},
 {"mark": {"type": "text", "text": "attractor", "font": "Liberation Serif", "fontStyle": "italic", "fontSize": 12, "angle": 270, "align": "left", "baseline": "alphabetic", "dx": -1.7, "dy": -15, "color": "#333"},
  "encoding": {"x": {"datum": -0.0012, "type": "quantitative"}, "y": {"datum": 0, "type": "quantitative"}}},
 {"mark": {"type": "text", "text": "(Hz)", "font": "Liberation Serif", "fontStyle": "italic", "fontSize": 16, "angle": 270, "align": "left", "baseline": "alphabetic", "dx": 41, "dy": -19, "color": "#333"},
  "encoding": {"x": {"datum": -0.0012, "type": "quantitative"}, "y": {"datum": 0, "type": "quantitative"}}},
 {"mark": {"type": "text", "text": "I", "font": "Liberation Serif", "fontStyle": "italic", "fontSize": 18, "align": "left", "baseline": "alphabetic", "dx": -28, "dy": 29, "color": "#222"},
  "encoding": {"x": {"datum": 0.0291, "type": "quantitative"}, "y": {"datum": -21.2, "type": "quantitative"}}},
 {"mark": {"type": "text", "text": "CD", "font": "Liberation Serif", "fontStyle": "italic", "fontSize": 13, "align": "left", "baseline": "alphabetic", "dx": -21.5, "dy": 33, "color": "#222"},
  "encoding": {"x": {"datum": 0.0291, "type": "quantitative"}, "y": {"datum": -21.2, "type": "quantitative"}}},
 {"mark": {"type": "text", "text": "(nA)", "font": "Liberation Serif", "fontStyle": "italic", "fontSize": 18, "align": "left", "baseline": "alphabetic", "dx": -2.4, "dy": 29, "color": "#222"},
  "encoding": {"x": {"datum": 0.0291, "type": "quantitative"}, "y": {"datum": -21.2, "type": "quantitative"}}},
 {"mark": {"type": "text", "text": "H", "font": "Liberation Sans", "fontWeight": "bold", "fontSize": 15, "align": "center", "baseline": "middle", "color": "#000"},
  "encoding": {"x": {"datum": 0.0546, "type": "quantitative"}, "y": {"datum": 21.56, "type": "quantitative"}}}
]},
{"width": 59, "height": 163, "mark": {"type": "text", "text": ""}, "encoding": {}},
{"width": 50, "height": 57, "layer": [
 {"mark": {"type": "point", "filled": true, "size": 196, "opacity": 1, "color": "#ff9a14"},
  "encoding": {"x": {"datum": 0.8, "type": "quantitative", "scale": {"domain": [0, 1], "nice": false, "zero": false}, "axis": null},
               "y": {"datum": 0.21, "type": "quantitative", "scale": {"domain": [0, 1], "nice": false, "zero": false}, "axis": null}}},
 {"mark": {"type": "text", "text": "Neutral attractor", "font": "Liberation Serif", "fontSize": 11, "align": "left", "baseline": "middle", "color": "#222"},
  "encoding": {"x": {"datum": 1.2, "type": "quantitative", "axis": null}, "y": {"datum": 0.21, "type": "quantitative", "axis": null}}}
]},
{"width": 243, "height": 57, "layer": [
 {"mark": {"type": "point", "filled": true, "size": 196, "opacity": 1, "color": "#0c0c8c"},
  "encoding": {"x": {"datum": 0.5185, "type": "quantitative", "scale": {"domain": [0, 1], "nice": false, "zero": false}, "axis": null},
               "y": {"datum": 0.21, "type": "quantitative", "scale": {"domain": [0, 1], "nice": false, "zero": false}, "axis": null}}},
 {"mark": {"type": "text", "text": "Attractor L", "font": "Liberation Serif", "fontSize": 11, "align": "left", "baseline": "middle", "color": "#222"},
  "encoding": {"x": {"datum": 0.6255, "type": "quantitative", "axis": null}, "y": {"datum": 0.21, "type": "quantitative", "axis": null}}}
]},
{"width": 118, "height": 57, "layer": [
 {"mark": {"type": "point", "filled": true, "size": 196, "opacity": 1, "color": "#960808"},
  "encoding": {"x": {"datum": 0.0763, "type": "quantitative", "scale": {"domain": [0, 1], "nice": false, "zero": false}, "axis": null},
               "y": {"datum": 0.21, "type": "quantitative", "scale": {"domain": [0, 1], "nice": false, "zero": false}, "axis": null}}},
 {"mark": {"type": "text", "text": "Attractor R", "font": "Liberation Serif", "fontSize": 11, "align": "left", "baseline": "middle", "color": "#222"},
  "encoding": {"x": {"datum": 0.2797, "type": "quantitative", "axis": null}, "y": {"datum": 0.21, "type": "quantitative", "axis": null}}}
]},
{"width": 218, "height": 57, "layer": [
 {"mark": {"type": "rule", "color": "#111", "strokeWidth": 2, "strokeCap": "round", "strokeDash": [0.5, 8.6]},
  "encoding": {"x": {"datum": 0.0734, "type": "quantitative", "scale": {"domain": [0, 1], "nice": false, "zero": false}, "axis": null}, "x2": {"datum": 0.372},
               "y": {"datum": 0.21, "type": "quantitative", "scale": {"domain": [0, 1], "nice": false, "zero": false}, "axis": null}}},
 {"mark": {"type": "text", "text": "Basin of attraction of the neutral attractor", "font": "Liberation Serif", "fontSize": 11, "align": "left", "baseline": "middle", "color": "#222"},
  "encoding": {"x": {"datum": 0.4266, "type": "quantitative", "axis": null}, "y": {"datum": 0.21, "type": "quantitative", "axis": null}}}
]},
{"width": 59, "height": 57, "mark": {"type": "text", "text": ""}, "encoding": {}}
]
}
